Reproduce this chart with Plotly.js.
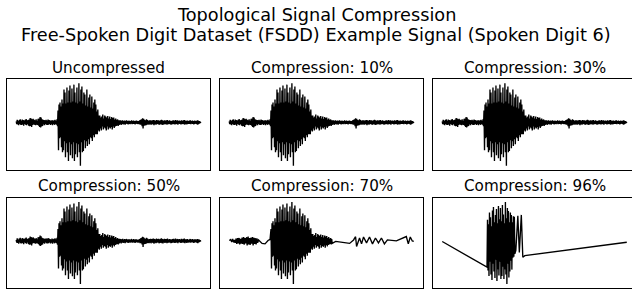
<!DOCTYPE html>
<html>
<head>
<meta charset="utf-8">
<script src="https://cdn.plot.ly/plotly-3.0.1.min.js"></script>
<style>
html,body{margin:0;padding:0;overflow:hidden;background:#fff;width:632px;height:289px;}
#chart{width:640px;height:289px;}
</style>
</head>
<body>
<div id="chart"></div>
<script>
// ---- data (amplitude values of the spoken digit "6" signal) ----
const panelTitles = ["Uncompressed","Compression: 10%","Compression: 30%","Compression: 50%","Compression: 70%","Compression: 96%"];
const mainTitle1 = "Topological Signal Compression";
const mainTitle2 = "Free-Spoken Digit Dataset (FSDD) Example Signal (Spoken Digit 6)";

// original signal, uniformly sampled (sample i at x = i)
const signal = [
10,-16,26,-20,14,-28,24,-14,32,-24,16,-26,
28,-20,24,-32,18,-16,26,-24,34,-28,20,-14,
24,-32,28,-38,45,-36,40,-45,32,-26,36,-20,
26,-24,20,-28,30,-22,16,-26,36,-32,40,-45,
55,-50,48,-40,32,-36,26,-20,24,-28,20,-16,
26,-24,18,-26,28,-22,24,-16,20,-26,14,-18,
24,-28,16,-14,20,-24,26,-18,16,-22,32,-38,
120,-280,180,-160,200,-150,160,-250,230,-300,190,-280,330,-190,300,-350,190,-210,350,-300,
200,-387,320,-200,370,-330,200,-220,340,-360,210,-200,380,-387,300,-320,200,-210,350,-350,
190,-220,395,-300,210,-437,330,-200,360,-300,190,-287,300,-180,280,-260,170,-190,330,-237,
160,-170,250,-220,280,-150,150,-160,260,-187,140,-130,200,-150,230,-120,180,-120,110,-120,
130,-80,70,-90,
70,-60,50,-80,60,-40,80,-70,40,-50,70,-60,60,-80,50,-40,65,-70,40,-50,
60,-60,35,-45,55,-70,45,-40,50,-55,30,-40,40,-35,25,-30,30,-35,20,-25,
22,-18,20,-24,17,-14,22,-20,14,-17,18,-22,16,-12,20,-16,14,-20,17,-14,
16,-18,14,-12,20,-17,12,-16,18,-14,14,-20,16,-12,17,-14,12,-18,14,-16,
20,-22,27,-24,32,-37,42,-62,37,-32,27,-30,22,-27,32,-22,24,-20,17,-22,
20,-17,22,-24,18,-14,22,-20,24,-27,20,-17,16,-22,24,-18,20,-16,22,-24,
17,-20,22,-18,27,-22,20,-24,17,-14,22,-20,18,-16,20,-22,24,-17,14,-18,
20,-16,17,-22,14,-20,18,-14,22,-17,16,-20,24,-18,17,-14,20,-22,16,-12,
18,-16,14,-20,22,-17,16,-14,20,-18,24,-22,17,-14,16,-20,18,-14,12,-16,
17,-14,20,-18,14,-12,18,-16,14,-20,17,-14,16,-12,14,-17,20,-22,17,-14,12,-10,6,-5
];

// 70% compression: retained sample positions and values
const x70 = [0,3,5,7,9,11,12,14,15,17,18,20,21,23,24,26,27,29,30,32,33,35,36,38,39,41,42,44,45,47,48,50,51,53,54,56,57,59,66,72,78,82,
84,85,86,87,88,89,90,91,92,93,94,95,96,97,98,99,100,101,102,103,104,105,106,107,108,109,110,111,112,113,114,115,116,117,118,119,
120,121,122,123,124,125,126,127,128,129,130,131,132,133,134,135,136,137,138,139,140,141,142,143,144,145,146,147,148,149,150,151,
152,153,154,155,156,157,158,159,160,161,162,163,164,165,166,167,168,169,170,171,172,173,174,175,176,177,178,179,180,181,182,183,
184,185,186,187,188,189,190,191,192,193,194,195,196,197,198,199,200,201,202,203,204,205,206,207,
214,228,242,250,254,256,258,262,266,270,276,282,288,294,300,306,312,318,336,352,356,360,364,368,371];
const y70 = [5,15,-10,20,-15,10,-20,25,-30,28,-25,30,-35,22,-28,35,-30,40,-38,30,-25,38,-45,45,-35,30,-40,35,-28,40,-45,32,-30,28,-35,25,-20,10,-25,-30,5,15,
120,-280,180,-160,200,-150,160,-250,230,-300,190,-280,330,-190,300,-350,190,-210,350,-300,
200,-387,320,-200,370,-330,200,-220,340,-360,210,-200,380,-387,300,-320,200,-210,350,-350,
190,-220,395,-300,210,-437,330,-200,360,-300,190,-287,300,-180,280,-260,170,-190,330,-237,
160,-170,250,-220,280,-150,150,-160,260,-187,140,-130,200,-150,230,-120,180,-120,110,-120,
130,-80,70,-90,
70,-60,50,-80,60,-40,80,-70,40,-50,70,-60,60,-80,50,-40,65,-70,40,-50,
60,-60,35,-45,55,-70,45,-40,50,-55,30,-40,40,-35,25,-30,30,-35,20,-25,
-5,-15,-25,10,43,-57,-20,30,-30,40,-20,40,-30,30,-20,30,-30,10,0,30,45,-30,40,0,-5];

// 96% compression: retained sample positions and values
const x96 = [0,90,91,92,93,94,95,96,97,98,99,100,101,102,103,104,105,106,107,108,109,110,111,112,113,114,115,116,117,118,
119,120,121,122,123,124,125,126,127,128,129,130,131,132,133,134,135,136,137,138,139,140,141,142,143,144,145,146,
148,152,155,159,162,166,371];
const y96 = [5,-255,225,-290,180,-345,300,-200,250,-330,160,-385,320,-220,355,-300,200,-365,275,-180,335,-395,190,-280,365,-340,230,-200,345,-375,
210,-345,375,-250,280,-375,190,-280,405,-330,240,-425,345,-220,315,-360,200,-300,300,-190,275,-280,200,-160,260,-150,255,-120,
-85,265,-105,275,-155,-138,-2];

// ---- layout geometry ----
const W = 640, H = 289;
const colPx = [[7,210],[220,423],[433,636]];
const rowPx = [[79,170],[198,288]];
const titleY = [68,186];

const series = [
  {y: signal},
  {y: signal},
  {y: signal},
  {y: signal},
  {x: x70, y: y70},
  {x: x96, y: y96}
];

function padRange(mn, mx){
  const p = (mx-mn)*0.05;
  return [mn-p, mx+p];
}

const data = [];
const layout = {
  width: W, height: H,
  margin: {l:0,r:0,t:0,b:0},
  paper_bgcolor: '#fff', plot_bgcolor: '#fff',
  showlegend: false,
  annotations: []
};

series.forEach((s,k)=>{
  const r = Math.floor(k/3), c = k%3;
  const sfx = (k===0?'':String(k+1));
  const trace = {
    type:'scatter', mode:'lines', y:s.y,
    xaxis:'x'+sfx, yaxis:'y'+sfx,
    line:{color:'#000', width:1.35}, hoverinfo:'skip'
  };
  let xr;
  if (s.x) { trace.x = s.x; xr = padRange(Math.min(...s.x), Math.max(...s.x)); }
  else { trace.x0 = 0; trace.dx = 1; xr = padRange(0, s.y.length-1); }
  data.push(trace);
  const axBase = {showline:true, mirror:true, linecolor:'#000', linewidth:1,
    showticklabels:false, ticks:'', showgrid:false, zeroline:false, fixedrange:true};
  layout['xaxis'+sfx] = Object.assign({}, axBase, {
    domain:[colPx[c][0]/W, colPx[c][1]/W], range: xr, anchor: 'y'+sfx
  });
  layout['yaxis'+sfx] = Object.assign({}, axBase, {
    domain:[(H-rowPx[r][1])/H, (H-rowPx[r][0])/H],
    range: padRange(Math.min(...s.y), Math.max(...s.y)), anchor: 'x'+sfx
  });
  layout.annotations.push({
    text: panelTitles[k], xref:'paper', yref:'paper',
    x: (colPx[c][0]+colPx[c][1])/2/W, y: (H-titleY[r])/H,
    xanchor:'center', yanchor:'middle', showarrow:false,
    font:{family:'DejaVu Sans', size:15.2, color:'#000'}
  });
});

layout.annotations.push({
  text: mainTitle1, xref:'paper', yref:'paper', x: 316/W, y:(H-15)/H,
  xanchor:'center', yanchor:'middle', showarrow:false,
  font:{family:'DejaVu Sans', size:17.7, color:'#000'}
});
layout.annotations.push({
  text: mainTitle2, xref:'paper', yref:'paper', x: 316/W, y:(H-34.5)/H,
  xanchor:'center', yanchor:'middle', showarrow:false,
  font:{family:'DejaVu Sans', size:17.7, color:'#000'}
});

Plotly.newPlot('chart', data, layout, {staticPlot:true, displayModeBar:false});
</script>
</body>
</html>
